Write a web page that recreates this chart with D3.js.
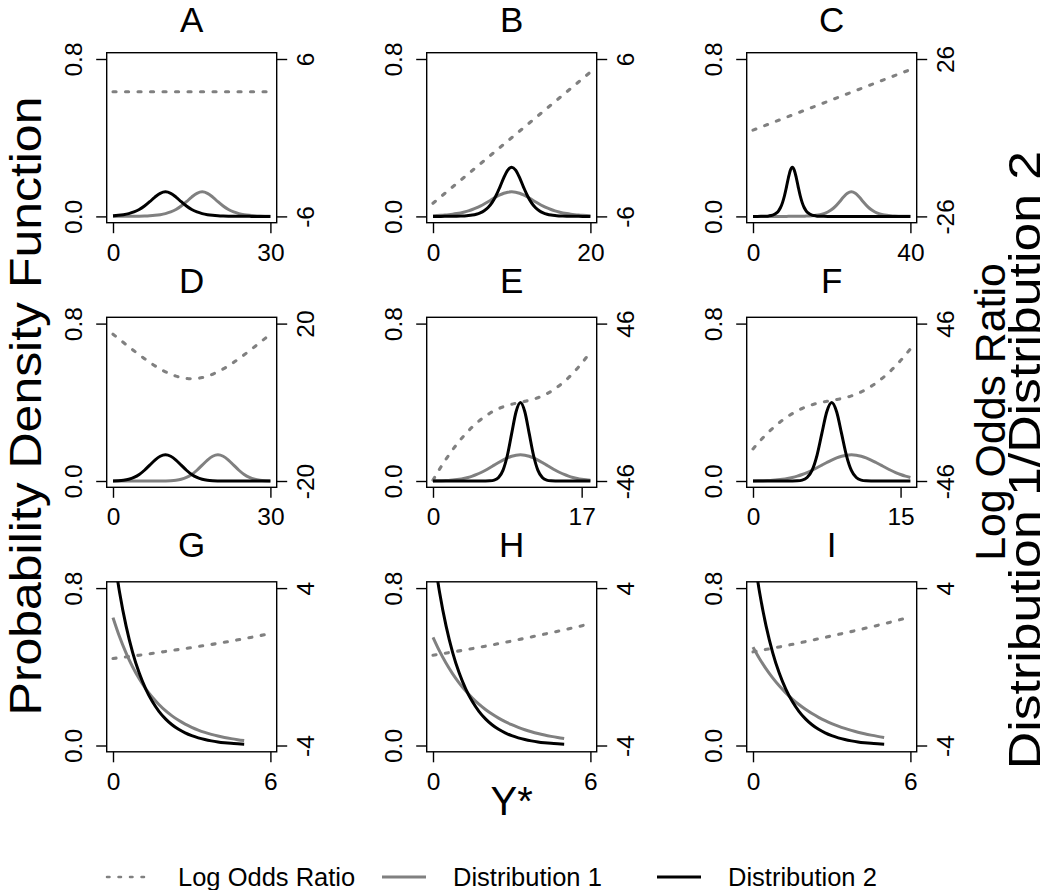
<!DOCTYPE html>
<html><head><meta charset="utf-8">
<script src="https://cdn.jsdelivr.net/npm/d3@7"></script>
<style>
body{margin:0;background:#fff}
svg text{font-family:"Liberation Sans",Arial,Helvetica,sans-serif;fill:#000}
</style></head><body>
<svg id="chart" width="1050" height="890"></svg>
<script>
// ---------- DATA ----------
const panelLetters = ["A","B","C","D","E","F","G","H","I"];
const xMax = [30,20,40,30,18,16,6,6,6];
const xTickLabels = [[0,30],[0,20],[0,40],[0,30],[0,17],[0,15],[0,6],[0,6],[0,6]];
const densityTicks = [0, 0.8];
const lorRange = [[-6,6],[-6,6],[-26,26],[-20,20],[-46,46],[-46,46],[-4,4],[-4,4],[-4,4]];
const legendLabels = ["Log Odds Ratio","Distribution 1","Distribution 2"];

// Panel A
const xA = [0,1,2,3,4,5,6,7,8,9,10,11,12,13,14,15,16,17,18,19,20,21,22,23,24,25,26,27,28,29,30];
const d1A = [0.0001,0.00017,0.00028,0.00046,0.00075,0.00123,0.00203,0.00333,0.00544,0.00884,0.01425,0.0226,0.0351,0.0525,0.0746,0.0983,0.1175,0.125,0.1175,0.0983,0.0746,0.0525,0.0351,0.0226,0.01425,0.00884,0.00544,0.00333,0.00203,0.00123,0.00075];
const d2A = [0.00333,0.00544,0.00884,0.01425,0.0226,0.0351,0.0525,0.0746,0.0983,0.1175,0.125,0.1175,0.0983,0.0746,0.0525,0.0351,0.0226,0.01425,0.00884,0.00544,0.00333,0.00203,0.00123,0.00075,0.00046,0.00028,0.00017,0.0001,0.00006,0.00004,0.00002];
const lorXA = [0,30];
const lorA = [3.5,3.5];

// Panel B
const xB = [0,0.5,1,1.5,2,2.5,3,3.5,4,4.5,5,5.5,6,6.5,7,7.5,8,8.5,9,9.5,10,10.5,11,11.5,12,12.5,13,13.5,14,14.5,15,15.5,16,16.5,17,17.5,18,18.5,19,19.5,20];
const d1B = [0.00333,0.00425,0.00544,0.00693,0.00884,0.01123,0.01425,0.018,0.0226,0.0282,0.0351,0.0431,0.0525,0.0631,0.0746,0.0866,0.0983,0.1089,0.1175,0.1231,0.125,0.1231,0.1175,0.1089,0.0983,0.0866,0.0746,0.0631,0.0525,0.0431,0.0351,0.0282,0.0226,0.018,0.01425,0.01123,0.00884,0.00693,0.00544,0.00425,0.00333];
const d2B = [0.00005,0.00007,0.00012,0.0002,0.00034,0.00055,0.00091,0.0015,0.00247,0.00405,0.00665,0.01087,0.01767,0.0285,0.0452,0.0701,0.105,0.1491,0.1966,0.235,0.25,0.235,0.1966,0.1491,0.105,0.0701,0.0452,0.0285,0.01767,0.01087,0.00665,0.00405,0.00247,0.0015,0.00091,0.00055,0.00034,0.0002,0.00012,0.00007,0.00005];
const lorXB = [0,20];
const lorB = [-5,5];

// Panel C
const xC = [0,1,2,3,4,5,6,6.5,7,7.5,8,8.5,9,9.5,10,10.5,11,11.5,12,12.5,13,13.5,14,15,16,17,18,19,20,21,22,23,24,25,26,27,28,29,30,31,32,33,34,35,36,37,38,39,40];
const d1C = [0,0,0,0,0,0,0.00001,0.00005,0.00006,0.00008,0.0001,0.00013,0.00017,0.00022,0.00028,0.00036,0.00046,0.00059,0.00075,0.00096,0.00123,0.00158,0.00203,0.00333,0.00544,0.00884,0.01425,0.0226,0.0351,0.0525,0.0746,0.0983,0.1175,0.125,0.1175,0.0983,0.0746,0.0525,0.0351,0.0226,0.01425,0.00884,0.00544,0.00333,0.00203,0.00123,0.00075,0.00046,0.00028];
const d2C = [0.00005,0.00012,0.00034,0.00091,0.00247,0.00665,0.01767,0.0285,0.0452,0.0701,0.105,0.1491,0.1966,0.235,0.25,0.235,0.1966,0.1491,0.105,0.0701,0.0452,0.0285,0.01767,0.00665,0.00247,0.00091,0.00034,0.00012,0.00005,0,0,0,0,0,0,0,0,0,0,0,0,0,0,0,0,0,0,0,0];
const lorXC = [0,40];
const lorC = [2.5,22.5];

// Panel D
const xD = [0,1,2,3,4,5,6,7,8,9,10,11,12,13,14,15,16,17,18,19,20,21,22,23,24,25,26,27,28,29,30];
const d1D = [0,0,0,0,0,0,0,0,0.00004,0.00016,0.000514,0.00148,0.0038,0.00874,0.018,0.03316,0.05467,0.08066,0.10648,0.12579,0.13298,0.12579,0.10648,0.08066,0.05467,0.03316,0.018,0.00874,0.0038,0.00148,0.000514];
const d2D = [0.000514,0.00148,0.0038,0.00874,0.018,0.03316,0.05467,0.08066,0.10648,0.12579,0.13298,0.12579,0.10648,0.08066,0.05467,0.03316,0.018,0.00874,0.0038,0.00148,0.000514,0.00016,0.00004,0,0,0,0,0,0,0,0];
const lorXD = xD;
const lorD = [17.31,16.24,15.18,14.12,13.09,12.07,11.09,10.15,9.27,8.47,7.75,7.14,6.65,6.28,6.06,5.98,6.06,6.28,6.65,7.14,7.75,8.47,9.27,10.15,11.09,12.07,13.09,14.12,15.18,16.24,17.31];

// Panel E
const xE = [0,0.5,1,1.5,2,2.5,3,3.5,4,4.5,5,5.5,6,6.5,7,7.5,8,8.5,9,9.5,10,10.5,11,11.5,12,12.5,13,13.5,14,14.5,15,15.5,16,16.5,17,17.5,18];
const d1E = [0.000514,0.00088,0.00148,0.0024,0.0038,0.00584,0.00874,0.01272,0.018,0.02477,0.03316,0.04317,0.05467,0.06733,0.08066,0.09397,0.10648,0.11735,0.12579,0.13115,0.13298,0.13115,0.12579,0.11735,0.10648,0.09397,0.08066,0.06733,0.05467,0.04317,0.03316,0.02477,0.018,0.01272,0.00874,0.00584,0.0038];
const d2E = [0,0,0,0,0,0,0,0,0,0,0,0.000016,0.00013,0.00087,0.00443,0.01753,0.05399,0.12952,0.24197,0.35207,0.39894,0.35207,0.24197,0.12952,0.05399,0.01753,0.00443,0.00087,0.00013,0.000016,0,0,0,0,0,0,0];
const lorXE = xE;
const lorE = [-45.48,-41.14,-37.02,-33.13,-29.45,-26.0,-22.77,-19.76,-16.98,-14.41,-12.07,-9.96,-8.06,-6.39,-4.94,-3.7,-2.68,-1.83,-1.13,-0.54,0,0.54,1.13,1.83,2.68,3.7,4.94,6.39,8.06,9.96,12.07,14.41,16.98,19.76,22.77,26.0,29.45];

// Panel F
const xF = [0,0.5,1,1.5,2,2.5,3,3.5,4,4.5,5,5.5,6,6.5,7,7.5,8,8.5,9,9.5,10,10.5,11,11.5,12,12.5,13,13.5,14,14.5,15,15.5,16];
const d1F = [0.000514,0.00088,0.00148,0.0024,0.0038,0.00584,0.00874,0.01272,0.018,0.02477,0.03316,0.04317,0.05467,0.06733,0.08066,0.09397,0.10648,0.11735,0.12579,0.13115,0.13298,0.13115,0.12579,0.11735,0.10648,0.09397,0.08066,0.06733,0.05467,0.04317,0.03316,0.02477,0.018];
const d2F = [0,0,0,0,0,0,0,0,0.00013,0.00087,0.00443,0.01753,0.05399,0.12952,0.24197,0.35207,0.39894,0.35207,0.24197,0.12952,0.05399,0.01753,0.00443,0.00087,0.00013,0,0,0,0,0,0,0,0];
const lorXF = xF;
const lorF = [-27.26,-23.91,-20.78,-17.87,-15.18,-12.7,-10.45,-8.42,-6.6,-5.0,-3.61,-2.44,-1.46,-0.66,0,0.565,1.085,1.614,2.2,2.9,3.76,4.81,6.07,7.56,9.28,11.22,13.4,15.8,18.44,21.3,24.39,27.71,31.25];

// Panels G, H, I
const xGHI = [0,0.25,0.5,0.75,1,1.25,1.5,1.75,2,2.25,2.5,2.75,3,3.25,3.5,3.75,4,4.25,4.5,4.75,5];
const d1G = [0.65,0.5525,0.4696,0.3992,0.3393,0.2884,0.2452,0.2084,0.1771,0.1506,0.128,0.1088,0.0925,0.0786,0.0668,0.0568,0.0483,0.041,0.0349,0.0296,0.0252];
const d1H = [0.55,0.4793,0.4178,0.3641,0.3173,0.2765,0.241,0.21,0.1831,0.1596,0.1391,0.1212,0.1056,0.0921,0.0802,0.0699,0.0609,0.0531,0.0463,0.0403,0.0351];
const d1I = [0.5,0.4412,0.3894,0.3436,0.3033,0.2676,0.2362,0.2084,0.1839,0.1623,0.1433,0.1264,0.1116,0.0985,0.0869,0.0767,0.0677,0.0597,0.0527,0.0465,0.041];
const d2GHI = [1,0.7788,0.6065,0.4724,0.3679,0.2865,0.2231,0.1738,0.1353,0.1054,0.0821,0.0639,0.0498,0.0388,0.0302,0.0235,0.0183,0.0143,0.0111,0.0087,0.0067];
const lorXGHI = [0,1,2,3,4,5,6];
const lorG = [0.42,0.59,0.78,0.98,1.19,1.43,1.69];
const lorH = [0.59,0.81,1.05,1.31,1.59,1.88,2.19];
const lorI = [0.76,1.01,1.28,1.57,1.87,2.19,2.53];

const panelSeries = [
  {x:xA, d1:d1A, d2:d2A, lx:lorXA, lor:lorA},
  {x:xB, d1:d1B, d2:d2B, lx:lorXB, lor:lorB},
  {x:xC, d1:d1C, d2:d2C, lx:lorXC, lor:lorC},
  {x:xD, d1:d1D, d2:d2D, lx:lorXD, lor:lorD},
  {x:xE, d1:d1E, d2:d2E, lx:lorXE, lor:lorE},
  {x:xF, d1:d1F, d2:d2F, lx:lorXF, lor:lorF},
  {x:xGHI, d1:d1G, d2:d2GHI, lx:lorXGHI, lor:lorG},
  {x:xGHI, d1:d1H, d2:d2GHI, lx:lorXGHI, lor:lorH},
  {x:xGHI, d1:d1I, d2:d2GHI, lx:lorXGHI, lor:lorI}
];

// ---------- LAYOUT / STYLE ----------
const svg = d3.select("#chart");
const colLeft = [106.7, 426.7, 746.7];
const rowTop = [52.7, 317.3, 581.8];
const box = 170;
const pad = box * 0.04 / 1.08;
const GRAY = "#808080";
const tickFont = 24.5;
const tickLen = 10.5;
const titleFont = 35;

panelLetters.forEach((letter, i) => {
  const col = i % 3, row = Math.floor(i / 3);
  const s = panelSeries[i];
  const g = svg.append("g").attr("transform", `translate(${colLeft[col]},${rowTop[row]})`);
  const x = d3.scaleLinear().domain([0, xMax[i]]).range([pad, box - pad]);
  const yL = d3.scaleLinear().domain([0, 0.8]).range([box - pad, pad]);
  const yR = d3.scaleLinear().domain(lorRange[i]).range([box - pad, pad]);

  const clipId = "clip" + i;
  g.append("clipPath").attr("id", clipId).append("rect")
    .attr("x", 0).attr("y", 0).attr("width", box).attr("height", box);
  const plot = g.append("g").attr("clip-path", `url(#${clipId})`);

  const lorLine = d3.line().x((d, k) => x(s.lx[k])).y(d => yR(d)).curve(d3.curveMonotoneX);
  const pdfLine = d3.line().x((d, k) => x(s.x[k])).y(d => yL(d)).curve(d3.curveMonotoneX);

  plot.append("path").attr("d", lorLine(s.lor)).attr("fill", "none")
    .attr("stroke", GRAY).attr("stroke-width", 3.1)
    .attr("stroke-dasharray", "3.1,9.4").attr("stroke-linecap", "round");
  plot.append("path").attr("d", pdfLine(s.d1)).attr("fill", "none")
    .attr("stroke", GRAY).attr("stroke-width", 3);
  plot.append("path").attr("d", pdfLine(s.d2)).attr("fill", "none")
    .attr("stroke", "#000").attr("stroke-width", 3);

  g.append("rect").attr("x", 0).attr("y", 0).attr("width", box).attr("height", box)
    .attr("fill", "none").attr("stroke", "#000").attr("stroke-width", 1.4);

  const la = g.append("g").call(d3.axisLeft(yL).tickValues(densityTicks).tickSize(tickLen).tickFormat(d3.format(".1f")));
  const ra = g.append("g").attr("transform", `translate(${box},0)`)
    .call(d3.axisRight(yR).tickValues(lorRange[i]).tickSize(tickLen).tickFormat(d => String(d)));
  const ba = g.append("g").attr("transform", `translate(0,${box})`)
    .call(d3.axisBottom(x).tickValues(xTickLabels[i]).tickSize(tickLen).tickPadding(10).tickFormat(d => String(d)));

  [la, ra, ba].forEach(a => {
    a.select(".domain").remove();
    a.selectAll("line").attr("stroke", "#000").attr("stroke-width", 1.4);
    a.selectAll("text").attr("font-size", tickFont).style("font-family", '"Liberation Sans",Arial,sans-serif').attr("fill", "#000");
  });
  la.selectAll("text").attr("transform", "rotate(-90)").attr("x", 0).attr("y", -25).attr("dy", 0).attr("text-anchor", "middle");
  ra.selectAll("text").attr("transform", "rotate(-90)").attr("x", 0).attr("y", 37).attr("dy", 0).attr("text-anchor", "middle");

  const titleY = Math.max(rowTop[row] - 24.7, titleFont * 0.91) - rowTop[row];
  g.append("text").attr("x", box / 2).attr("y", titleY).attr("text-anchor", "middle")
    .attr("font-size", titleFont).text(letter);
});

// axis titles
svg.append("text").attr("transform", "translate(41,406) rotate(-90) scale(1.11,1)")
  .attr("text-anchor", "middle").attr("font-size", 45).text("Probability Density Function");
svg.append("text").attr("transform", "translate(1005,412) rotate(-90) scale(1.02,1)")
  .attr("text-anchor", "middle").attr("font-size", 42).text("Log Odds Ratio");
svg.append("text").attr("transform", "translate(1040.3,460) rotate(-90) scale(1.15,1)")
  .attr("text-anchor", "middle").attr("font-size", 45).text("Distribution 1/Distribution 2");
svg.append("text").attr("x", 511.7).attr("y", 815).attr("text-anchor", "middle")
  .attr("font-size", 40).text("Y*");

// legend
const legendX = [105, 380, 655];
const legendStyles = [
  {stroke: GRAY, dash: "2.5,9", cap: "round", w: 2.5},
  {stroke: GRAY, dash: null, cap: "butt", w: 3},
  {stroke: "#000", dash: null, cap: "butt", w: 3}
];
const lg = svg.append("g").attr("transform", "translate(0,877)");
legendLabels.forEach((lab, k) => {
  const st = legendStyles[k];
  const ln = lg.append("line").attr("x1", legendX[k] + 2).attr("x2", legendX[k] + 46)
    .attr("y1", 0).attr("y2", 0).attr("stroke", st.stroke).attr("stroke-width", st.w)
    .attr("stroke-linecap", st.cap);
  if (st.dash) ln.attr("stroke-dasharray", st.dash);
  lg.append("text").attr("x", legendX[k] + 73).attr("y", 9).attr("font-size", 25.5).text(lab);
});
</script></body></html>
